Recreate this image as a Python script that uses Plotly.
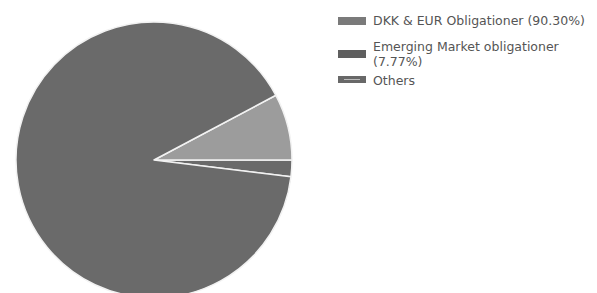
import plotly.graph_objects as go

labels = ["Others", "Emerging Market obligationer<br>(7.77%)", "DKK & EUR Obligationer (90.30%)"]
values = [1.93, 7.77, 90.30]
colors = ["#6a6a6a", "#9c9c9c", "#6a6a6a"]

# legend (top to bottom), drawn as text + swatches
legend_labels = ["DKK & EUR Obligationer (90.30%)", "Emerging Market obligationer<br>(7.77%)", "Others"]
legend_colors = ["#7a7a7a", "#5f5f5f", "#686868"]

W, H = 597, 293
OFF = 8  # page body margin of the html output

fig = go.Figure(go.Pie(
    labels=labels,
    values=values,
    sort=False,
    direction="counterclockwise",
    rotation=90,
    marker=dict(colors=colors, line=dict(color="#f2f2f2", width=1.5)),
    textinfo="none",
    hoverinfo="label+percent",
    domain=dict(x=[0.0134, 0.4757], y=[3 / 293, 279 / 293]),
    showlegend=False,
))

# legend layout (target screen pixels)
first_line_y = [21, 47, 80]
line_gap = 15
sw_y = [(17, 25), (50, 58), (76, 83)]
sw_x = (338, 366)
text_x = 372

def px(x):
    return (x - OFF) / W

def py(y):
    return 1 - (y - OFF) / H

annotations = []
shapes = []
for lab, col, ty, (y0, y1) in zip(legend_labels, legend_colors, first_line_y, sw_y):
    for i, line in enumerate(lab.split("<br>")):
        annotations.append(dict(
            text=line, x=px(text_x), y=py(ty + i * line_gap), xref="paper", yref="paper",
            xanchor="left", yanchor="middle", align="left", showarrow=False,
            borderpad=0,
            font=dict(family="DejaVu Sans, sans-serif", size=12.5, color="#555555"),
        ))
    shapes.append(dict(
        type="rect", xref="paper", yref="paper",
        x0=px(sw_x[0]), x1=px(sw_x[1]), y0=py(y1), y1=py(y0),
        fillcolor=col, line=dict(width=0),
    ))
# light centre line in the "Others" swatch
shapes.append(dict(
    type="line", xref="paper", yref="paper",
    x0=px(344), x1=px(360), y0=py(79.5), y1=py(79.5),
    line=dict(color="#bbbbbb", width=1),
))

fig.update_layout(
    width=W, height=H,
    margin=dict(l=0, r=0, t=0, b=0, autoexpand=False),
    paper_bgcolor="white",
    plot_bgcolor="white",
    font=dict(family="DejaVu Sans, sans-serif", size=12, color="#555555"),
    showlegend=False,
    annotations=annotations,
    shapes=shapes,
)

fig.write_html("out.html")
